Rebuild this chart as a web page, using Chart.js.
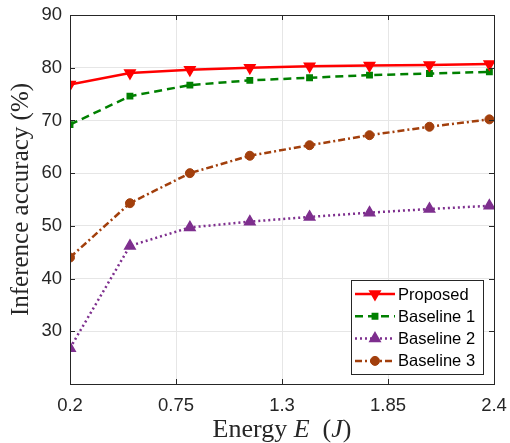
<!DOCTYPE html>
<html>
<head>
<meta charset="utf-8">
<script src="https://cdn.jsdelivr.net/npm/chart.js@4"></script>
<style>
  body { margin: 0; background: #fff; }
  #wrap { width: 510px; height: 443px; position: relative; }
</style>
</head>
<body>
<div id="wrap"><canvas id="myChart"></canvas></div>
<script>
// données
const energy = [0.2, 0.511, 0.822, 1.133, 1.443, 1.754, 2.065, 2.376];
const proposed = [76.8, 79.0, 79.6, 80.0, 80.3, 80.4, 80.5, 80.7];
const baseline1 = [69.2, 74.6, 76.7, 77.6, 78.1, 78.6, 78.9, 79.2];
const baseline2 = [26.8, 46.2, 49.7, 50.8, 51.7, 52.5, 53.2, 53.8];
const baseline3 = [44.0, 54.3, 60.0, 63.3, 65.3, 67.2, 68.8, 70.2];
const xTicks = [0.2, 0.75, 1.3, 1.85, 2.4];
const yTicks = [20, 30, 40, 50, 60, 70, 80, 90];
const seriesNames = ["Proposed", "Baseline 1", "Baseline 2", "Baseline 3"];

const pts = (ys) => ys.map((y, i) => ({ x: energy[i], y: y }));

const data = {
  datasets: [
    {
      label: seriesNames[0],
      data: pts(proposed),
      borderColor: "#ff0000",
      backgroundColor: "#ff0000",
      borderWidth: 2.5,
      pointStyle: "triangle",
      rotation: 180,
      pointRadius: 6,
      pointBorderWidth: 1.5,
    },
    {
      label: seriesNames[1],
      data: pts(baseline1),
      borderColor: "#008000",
      backgroundColor: "#008000",
      borderWidth: 2.5,
      borderDash: [8, 5],
      pointStyle: "rect",
      pointRadius: 3.8,
      pointBorderWidth: 1.5,
    },
    {
      label: seriesNames[2],
      data: pts(baseline2),
      borderColor: "#7e2f8e",
      backgroundColor: "#7e2f8e",
      borderWidth: 2.5,
      borderDash: [2, 3],
      pointStyle: "triangle",
      pointRadius: 6,
      pointBorderWidth: 1.5,
    },
    {
      label: seriesNames[3],
      data: pts(baseline3),
      borderColor: "#a23f0c",
      backgroundColor: "#a23f0c",
      borderWidth: 2.5,
      borderDash: [7, 3, 2, 3],
      pointStyle: "circle",
      pointRadius: 4.5,
      pointBorderWidth: 1,
    },
  ],
};

// cadre + petites graduations intérieures (style MATLAB)
const boxPlugin = {
  id: "box",
  afterDatasetsDraw(chart) {
    const { ctx, chartArea: a, scales } = chart;
    ctx.save();
    ctx.strokeStyle = "#262626";
    ctx.lineWidth = 1;
    ctx.strokeRect(a.left + 0.5, a.top + 0.5, a.right - a.left, a.bottom - a.top);
    const t = 5;
    ctx.beginPath();
    xTicks.forEach((v) => {
      const x = Math.round(scales.x.getPixelForValue(v)) + 0.5;
      ctx.moveTo(x, a.bottom); ctx.lineTo(x, a.bottom - t);
      ctx.moveTo(x, a.top); ctx.lineTo(x, a.top + t);
    });
    yTicks.forEach((v) => {
      const y = Math.round(scales.y.getPixelForValue(v)) + 0.5;
      ctx.moveTo(a.left, y); ctx.lineTo(a.left + t, y);
      ctx.moveTo(a.right, y); ctx.lineTo(a.right - t, y);
    });
    ctx.stroke();

    // titre de l'axe x avec E et J en italique
    const parts = [
      ["Energy ", ""], ["E", "italic "], ["  (", ""], ["J", "italic "], [")", ""],
    ];
    ctx.fillStyle = "#262626";
    ctx.textBaseline = "alphabetic";
    let total = 0;
    parts.forEach((p) => { ctx.font = p[1] + "26px 'Liberation Serif'"; total += ctx.measureText(p[0]).width; });
    let x = (a.left + a.right) / 2 - total / 2;
    parts.forEach((p) => {
      ctx.font = p[1] + "26px 'Liberation Serif'";
      ctx.fillText(p[0], x, 437);
      x += ctx.measureText(p[0]).width;
    });
    ctx.restore();
  },
  afterDraw(chart) {
    // légende dans le coin bas-droit
    const { ctx } = chart;
    const bx = 351, by = 280, bw = 132, bh = 94;
    ctx.save();
    ctx.fillStyle = "#ffffff";
    ctx.fillRect(bx, by, bw, bh);
    ctx.strokeStyle = "#262626";
    ctx.lineWidth = 1;
    ctx.strokeRect(bx + 0.5, by + 0.5, bw, bh);
    chart.data.datasets.forEach((ds, i) => {
      const y = by + 14 + i * 22.3;
      ctx.strokeStyle = ds.borderColor;
      ctx.lineWidth = ds.borderWidth;
      ctx.setLineDash(ds.borderDash || []);
      ctx.beginPath();
      ctx.moveTo(bx + 4, y);
      ctx.lineTo(bx + 44, y);
      ctx.stroke();
      ctx.setLineDash([]);
      ctx.fillStyle = ds.backgroundColor;
      ctx.lineWidth = ds.pointBorderWidth;
      Chart.helpers.drawPoint(ctx, {
        pointStyle: ds.pointStyle,
        radius: ds.pointRadius,
        rotation: ds.rotation || 0,
        borderWidth: ds.pointBorderWidth,
      }, bx + 24, y);
      ctx.fillStyle = "#000000";
      ctx.font = "16.5px 'Liberation Sans'";
      ctx.textBaseline = "middle";
      ctx.fillText(ds.label, bx + 47, y + 1);
    });
    ctx.restore();
  },
};

const config = {
  type: "line",
  data: data,
  options: {
    responsive: true,
    maintainAspectRatio: false,
    animation: false,
    layout: { padding: { top: 15, right: 16, left: 0, bottom: 0 } },
    plugins: { legend: { display: false }, tooltip: { enabled: false } },
    scales: {
      x: {
        type: "linear",
        min: 0.2,
        max: 2.4,
        afterBuildTicks: (s) => { s.ticks = xTicks.map((v) => ({ value: v })); },
        afterFit: (s) => { s.height = 59; s.paddingLeft = 0; s.paddingRight = 0; },
        ticks: {
          color: "#262626",
          font: { family: "'Liberation Sans'", size: 18.5 },
          padding: 11,
          maxRotation: 0,
          callback: (v) => String(v),
        },
        grid: { color: "#e6e6e6", drawTicks: false },
        border: { display: false },
      },
      y: {
        min: 20,
        max: 90,
        afterBuildTicks: (s) => { s.ticks = yTicks.map((v) => ({ value: v })); },
        afterFit: (s) => { s.width = 70; s.paddingTop = 0; s.paddingBottom = 0; },
        ticks: {
          color: "#262626",
          font: { family: "'Liberation Sans'", size: 18.5 },
          padding: 8,
          callback: (v) => (v === 20 ? "" : String(v)),
        },
        grid: { color: "#e6e6e6", drawTicks: false },
        border: { display: false },
        title: {
          display: true,
          text: "Inference accuracy (%)",
          color: "#262626",
          font: { family: "'Liberation Serif'", size: 25 },
          padding: { top: 6, bottom: 0 },
        },
      },
    },
  },
  plugins: [boxPlugin],
};

let context = document.getElementById("myChart").getContext("2d");
let chart = new Chart(context, config);
</script>
</body>
</html>
